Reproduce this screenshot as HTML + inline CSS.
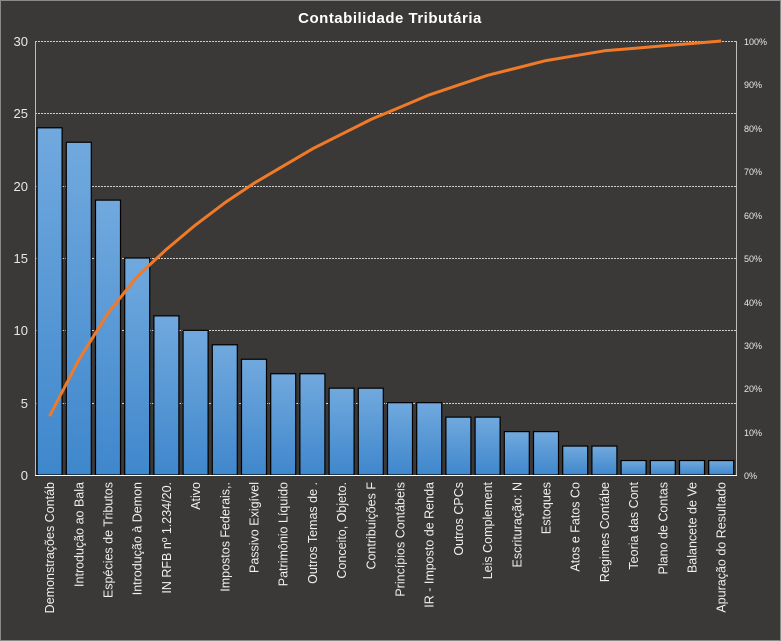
<!DOCTYPE html>
<html><head><meta charset="utf-8"><style>
html,body{margin:0;padding:0;background:#3a3937;}
svg{display:block;font-family:"Liberation Sans",sans-serif;}
</style></head><body>
<svg width="781" height="641" viewBox="0 0 781 641" xmlns="http://www.w3.org/2000/svg">
<defs>
<linearGradient id="g" x1="0" y1="0" x2="0" y2="1">
<stop offset="0" stop-color="#71a9de"/><stop offset="1" stop-color="#3f87cc"/>
</linearGradient>
</defs>
<rect x="0.5" y="0.5" width="780" height="640" fill="#3a3937" stroke="#8a8a8a"/>
<text x="390" y="23" fill="#ffffff" font-size="15" font-weight="bold" text-anchor="middle" letter-spacing="0.5">Contabilidade  Tributária</text>
<g stroke="#cfcfcf" stroke-dasharray="2,1" stroke-width="1">
<line x1="35" y1="41.5" x2="736" y2="41.5"/>
<line x1="35" y1="113.5" x2="736" y2="113.5"/>
<line x1="35" y1="186.5" x2="736" y2="186.5"/>
<line x1="35" y1="258.5" x2="736" y2="258.5"/>
<line x1="35" y1="330.5" x2="736" y2="330.5"/>
<line x1="35" y1="403.5" x2="736" y2="403.5"/>
</g>
<g fill="#e8e8e8" font-size="13" text-anchor="end">
<text x="28" y="46">30</text><text x="28" y="118">25</text><text x="28" y="191">20</text>
<text x="28" y="263">15</text><text x="28" y="335">10</text><text x="28" y="408">5</text><text x="28" y="480">0</text>
</g>
<g fill="#e8e8e8" font-size="9" text-anchor="start">
<text x="744" y="45">100%</text><text x="744" y="88">90%</text><text x="744" y="132">80%</text>
<text x="744" y="175">70%</text><text x="744" y="219">60%</text><text x="744" y="262">50%</text>
<text x="744" y="306">40%</text><text x="744" y="349">30%</text><text x="744" y="392">20%</text>
<text x="744" y="436">10%</text><text x="744" y="479">0%</text>
</g>
<g id="bars" fill="url(#g)" stroke="#000" stroke-width="1.2"></g>
<line x1="35.5" y1="41" x2="35.5" y2="475" stroke="#bdbdbd"/>
<line x1="736.5" y1="41" x2="736.5" y2="475" stroke="#bdbdbd"/>
<line x1="35" y1="475.5" x2="737" y2="475.5" stroke="#ffffff"/>
<polyline id="cum" fill="none" stroke="#f07a28" stroke-width="3" stroke-linejoin="round"/>
<g id="labels" fill="#f0f0f0" font-size="12.5"></g>
</svg>
<script>
var v=[24,23,19,15,11,10,9,8,7,7,6,6,5,5,4,4,3,3,2,2,1,1,1,1];
var L=["Demonstrações Contáb","Introdução ao Bala","Espécies de Tributos","Introdução à Demon","IN RFB nº 1.234/20.","Ativo","Impostos Federais,.","Passivo Exigível","Patrimônio Líquido","Outros Temas de  .","Conceito, Objeto.","Contribuições F","Princípios Contábeis","IR - Imposto de Renda","Outros CPCs","Leis Complement","Escrituração: N","Estoques","Atos e Fatos Co","Regimes Contábe","Teoria das Cont","Plano de Contas","Balancete de Ve","Apuração do Resultado"];
var ns="http://www.w3.org/2000/svg",b=document.getElementById("bars"),lb=document.getElementById("labels");
var tot=177,c=0,pts=[];
for(var i=0;i<24;i++){var cx=49.6+i*29.2,h=v[i]*434/30;
var r=document.createElementNS(ns,"rect");r.setAttribute("x",cx-12.5);r.setAttribute("y",475-h);r.setAttribute("width",25);r.setAttribute("height",h);b.appendChild(r);
c+=v[i];pts.push(cx.toFixed(1)+","+(475-c/tot*434).toFixed(1));
var t=document.createElementNS(ns,"text");t.setAttribute("transform","translate("+(cx+4.5)+",482) rotate(-90)");t.setAttribute("text-anchor","end");t.textContent=L[i];lb.appendChild(t);}
document.getElementById("cum").setAttribute("points",pts.join(" "));
</script>
</body></html>
